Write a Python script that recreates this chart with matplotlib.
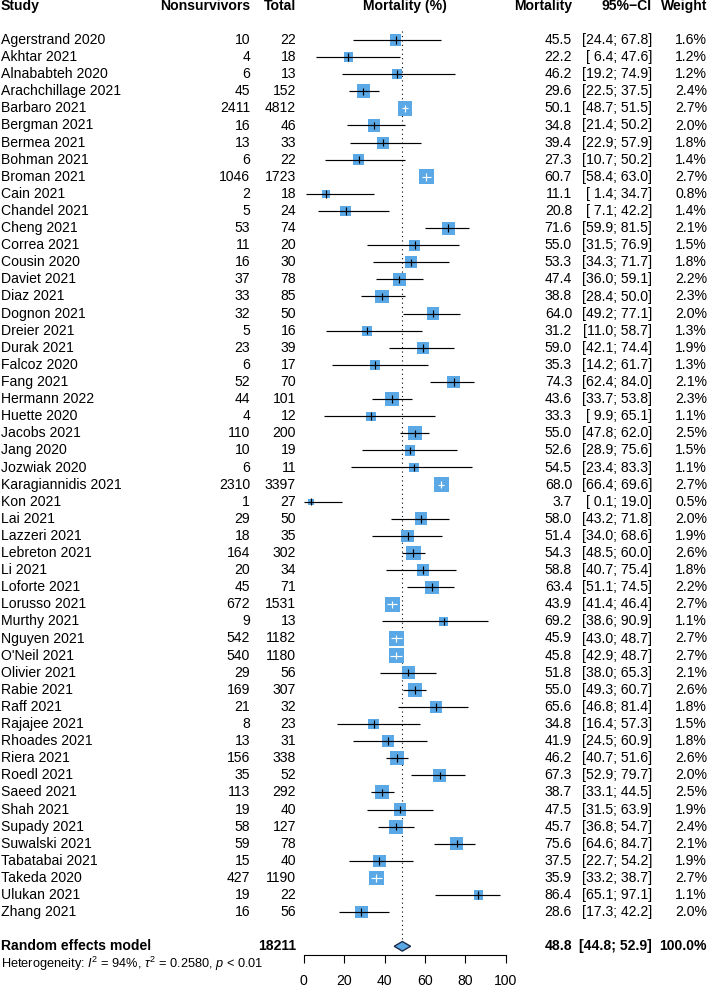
import matplotlib
matplotlib.use("Agg")
import matplotlib.pyplot as plt
from matplotlib.patches import Polygon

plt.rcParams['font.family'] = ['Liberation Sans', 'DejaVu Sans']
plt.rcParams['mathtext.fontset'] = 'custom'
plt.rcParams['mathtext.rm'] = 'Liberation Sans'
plt.rcParams['mathtext.it'] = 'Liberation Sans:italic'
plt.rcParams['mathtext.bf'] = 'Liberation Sans:bold'

studies = ["Agerstrand 2020", "Akhtar 2021", "Alnababteh 2020", "Arachchillage 2021",
           "Barbaro 2021", "Bergman 2021", "Bermea 2021", "Bohman 2021", "Broman 2021",
           "Cain 2021", "Chandel 2021", "Cheng 2021", "Correa 2021", "Cousin 2020",
           "Daviet 2021", "Diaz 2021", "Dognon 2021", "Dreier 2021", "Durak 2021",
           "Falcoz 2020", "Fang 2021", "Hermann 2022", "Huette 2020", "Jacobs 2021",
           "Jang 2020", "Jozwiak 2020", "Karagiannidis 2021", "Kon 2021", "Lai 2021",
           "Lazzeri 2021", "Lebreton 2021", "Li 2021", "Loforte 2021", "Lorusso 2021",
           "Murthy 2021", "Nguyen 2021", "O'Neil 2021", "Olivier 2021", "Rabie 2021",
           "Raff 2021", "Rajajee 2021", "Rhoades 2021", "Riera 2021", "Roedl 2021",
           "Saeed 2021", "Shah 2021", "Supady 2021", "Suwalski 2021", "Tabatabai 2021",
           "Takeda 2020", "Ulukan 2021", "Zhang 2021"]
nonsurvivors = [10, 4, 6, 45, 2411, 16, 13, 6, 1046, 2, 5, 53, 11, 16, 37, 33, 32, 5, 23,
                6, 52, 44, 4, 110, 10, 6, 2310, 1, 29, 18, 164, 20, 45, 672, 9, 542, 540,
                29, 169, 21, 8, 13, 156, 35, 113, 19, 58, 59, 15, 427, 19, 16]
total = [22, 18, 13, 152, 4812, 46, 33, 22, 1723, 18, 24, 74, 20, 30, 78, 85, 50, 16, 39,
         17, 70, 101, 12, 200, 19, 11, 3397, 27, 50, 35, 302, 34, 71, 1531, 13, 1182, 1180,
         56, 307, 32, 23, 31, 338, 52, 292, 40, 127, 78, 40, 1190, 22, 56]
mortality = [45.5, 22.2, 46.2, 29.6, 50.1, 34.8, 39.4, 27.3, 60.7, 11.1, 20.8, 71.6, 55.0,
             53.3, 47.4, 38.8, 64.0, 31.2, 59.0, 35.3, 74.3, 43.6, 33.3, 55.0, 52.6, 54.5,
             68.0, 3.7, 58.0, 51.4, 54.3, 58.8, 63.4, 43.9, 69.2, 45.9, 45.8, 51.8, 55.0,
             65.6, 34.8, 41.9, 46.2, 67.3, 38.7, 47.5, 45.7, 75.6, 37.5, 35.9, 86.4, 28.6]
ci_low = [24.4, 6.4, 19.2, 22.5, 48.7, 21.4, 22.9, 10.7, 58.4, 1.4, 7.1, 59.9, 31.5, 34.3,
          36.0, 28.4, 49.2, 11.0, 42.1, 14.2, 62.4, 33.7, 9.9, 47.8, 28.9, 23.4, 66.4, 0.1,
          43.2, 34.0, 48.5, 40.7, 51.1, 41.4, 38.6, 43.0, 42.9, 38.0, 49.3, 46.8, 16.4,
          24.5, 40.7, 52.9, 33.1, 31.5, 36.8, 64.6, 22.7, 33.2, 65.1, 17.3]
ci_high = [67.8, 47.6, 74.9, 37.5, 51.5, 50.2, 57.9, 50.2, 63.0, 34.7, 42.2, 81.5, 76.9,
           71.7, 59.1, 50.0, 77.1, 58.7, 74.4, 61.7, 84.0, 53.8, 65.1, 62.0, 75.6, 83.3,
           69.6, 19.0, 71.8, 68.6, 60.0, 75.4, 74.5, 46.4, 90.9, 48.7, 48.7, 65.3, 60.7,
           81.4, 57.3, 60.9, 51.6, 79.7, 44.5, 63.9, 54.7, 84.7, 54.2, 38.7, 97.1, 42.2]
weights = [1.6, 1.2, 1.2, 2.4, 2.7, 2.0, 1.8, 1.4, 2.7, 0.8, 1.4, 2.1, 1.5, 1.8, 2.2, 2.3,
           2.0, 1.3, 1.9, 1.3, 2.1, 2.3, 1.1, 2.5, 1.5, 1.1, 2.7, 0.5, 2.0, 1.9, 2.6, 1.8,
           2.2, 2.7, 1.1, 2.7, 2.7, 2.1, 2.6, 1.8, 1.5, 1.8, 2.6, 2.0, 2.5, 1.9, 2.4, 2.1,
           1.9, 2.7, 1.1, 2.0]

re_total = 18211
re_est, re_low, re_high = 48.8, 44.8, 52.9
x_ticks = [0, 20, 40, 60, 80, 100]
hetero = r"Heterogeneity: $I^2$ = 94%, $\tau^2$ = 0.2580, $p$ < 0.01"

# ---- layout (pixels) ----
W, H = 710, 988
y0, dy = 40.0, 17.1          # first row centre / row spacing in px
ylim = ((H - y0) / dy, -y0 / dy)
FS = 10.1
SQ_COL = "#5AA8E6"
n = len(studies)
re_row = n + 1

fig = plt.figure(figsize=(W / 100, H / 100), dpi=100)
tax = fig.add_axes([0, 0, 1, 1])
tax.set_xlim(0, W)
tax.set_ylim(*ylim)
tax.axis('off')

fx0, fx1 = 303.5, 506.0
fax = fig.add_axes([fx0 / W, 0, (fx1 - fx0) / W, 1])
fax.set_xlim(0, 100)
fax.set_ylim(*ylim)
fax.patch.set_alpha(0)

# header
hy = -2
hdr = dict(va='center', fontsize=FS, fontweight='bold')
tax.text(1, hy, "Study", ha='left', **hdr)
tax.text(250, hy, "Nonsurvivors", ha='right', **hdr)
tax.text(296, hy, "Total", ha='right', **hdr)
tax.text(404.5, hy, "Mortality (%)", ha='center', **hdr)
tax.text(572, hy, "Mortality", ha='right', **hdr)
tax.text(652, hy, "95%\u2212CI", ha='right', **hdr)
tax.text(707, hy, "Weight", ha='right', **hdr)

# study rows
for i in range(n):
    tax.text(1, i, studies[i], ha='left', va='center', fontsize=FS)
    tax.text(250, i, f"{nonsurvivors[i]}", ha='right', va='center', fontsize=FS)
    tax.text(296, i, f"{total[i]}", ha='right', va='center', fontsize=FS)
    tax.text(572, i, f"{mortality[i]:.1f}", ha='right', va='center', fontsize=FS)
    tax.text(652, i, f"[{ci_low[i]:4.1f}; {ci_high[i]:4.1f}]", ha='right', va='center',
             fontsize=FS)
    tax.text(707, i, f"{weights[i]:.1f}%", ha='right', va='center', fontsize=FS)

# random effects row
bold = dict(va='center', fontsize=FS, fontweight='bold')
tax.text(1, re_row, "Random effects model", ha='left', **bold)
tax.text(296, re_row, f"{re_total}", ha='right', **bold)
tax.text(572, re_row, f"{re_est:.1f}", ha='right', **bold)
tax.text(652, re_row, f"[{re_low:.1f}; {re_high:.1f}]", ha='right', **bold)
tax.text(707, re_row, "100.0%", ha='right', **bold)
tax.text(1, re_row + 1.0, hetero, ha='left', va='center', fontsize=9.2)

# forest
rows = list(range(n))
px_per_unit = (fx1 - fx0) / 100.0
k = 8.95  # px side per sqrt(weight)
fax.scatter(mortality, rows, s=[(k * 0.72) ** 2 * w for w in weights], marker='s',
            color=SQ_COL, linewidths=0, zorder=2)
for i in rows:
    half = k * weights[i] ** 0.5 / 2 / px_per_unit
    inside = (ci_low[i] >= mortality[i] - half) and (ci_high[i] <= mortality[i] + half)
    c = 'white' if inside else 'black'
    fax.hlines(i, ci_low[i], ci_high[i], color=c, lw=0.85, zorder=3)
    fax.vlines(mortality[i], i - 0.22, i + 0.22, color=c, lw=0.85, zorder=3)

# reference line
fax.vlines(re_est, -0.5, re_row - 0.28, color='black', lw=0.8,
           linestyles=[(0, (1, 3))], zorder=1)

# diamond
dh = 0.28
fax.add_patch(Polygon([(re_low, re_row), (re_est, re_row - dh), (re_high, re_row),
                       (re_est, re_row + dh)], closed=True, facecolor=SQ_COL,
                      edgecolor='#1c2b4a', lw=1.0, zorder=3))

# x axis
for s in ['top', 'right', 'left']:
    fax.spines[s].set_visible(False)
fax.spines['bottom'].set_position(('data', re_row + 0.5))
fax.spines['bottom'].set_bounds(0, 100)
fax.spines['bottom'].set_linewidth(0.8)
fax.set_yticks([])
fax.set_xticks(x_ticks)
fax.set_xticklabels([str(t) for t in x_ticks])
fax.tick_params(axis='x', direction='out', length=5.5, width=0.8, pad=8.5, labelsize=FS)

fig.savefig("out.png", dpi=100)
